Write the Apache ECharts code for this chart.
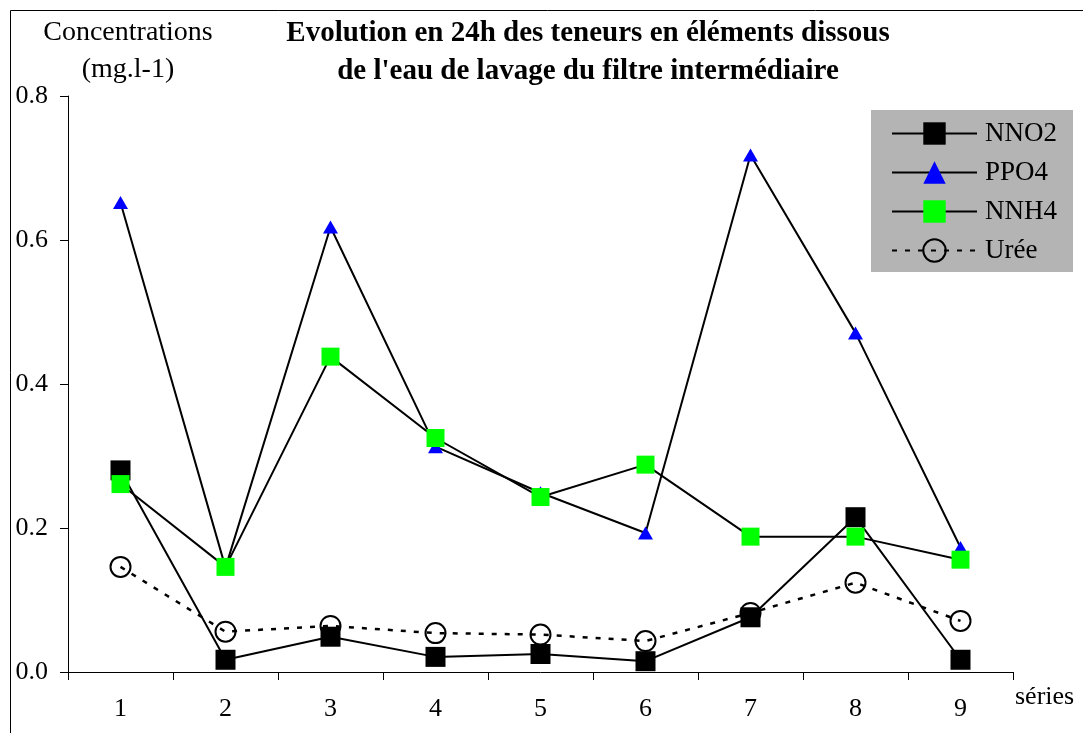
<!DOCTYPE html>
<html>
<head>
<meta charset="utf-8">
<script src="https://cdn.jsdelivr.net/npm/echarts@6/dist/echarts.min.js"></script>
<style>html,body{margin:0;padding:0;background:#fff;}#c{width:1083px;height:733px;}</style>
</head>
<body>
<div id="c"></div>
<script>
const categories = ['1','2','3','4','5','6','7','8','9'];
const nno2 = [0.280, 0.017, 0.049, 0.021, 0.025, 0.015, 0.076, 0.215, 0.017];
const ppo4 = [0.652, 0.145, 0.618, 0.313, 0.249, 0.193, 0.718, 0.471, 0.173];
const nnh4 = [0.261, 0.146, 0.438, 0.325, 0.243, 0.288, 0.188, 0.188, 0.156];
const uree = [0.146, 0.056, 0.064, 0.054, 0.052, 0.043, 0.082, 0.124, 0.071];
const yTicks = ['0.0','0.2','0.4','0.6','0.8'];

const FONT = '"Liberation Serif", "Times New Roman", serif';
const chart = echarts.init(document.getElementById('c'), null, {renderer:'canvas'});
chart.setOption({
  animation: false,
  backgroundColor: '#fff',
  textStyle: {fontFamily: FONT, color: '#000'},
  title: {
    text: 'Evolution en 24h des teneurs en éléments dissous\nde l\'eau de lavage du filtre intermédiaire',
    left: 583, top: 10, textAlign: 'center',
    textStyle: {fontFamily: FONT, fontWeight: 'bold', fontSize: 29, lineHeight: 38, color: '#000'}
  },
  graphic: [
    {type:'rect', left: 8, top: 8, shape:{width:1100, height:800}, style:{fill:'none', stroke:'#000', lineWidth:1}, silent:true, z:-10},
    {type:'text', x: 128, y: 33, style:{text:'Concentrations', font:'28px ' + FONT, fill:'#000', align:'center', verticalAlign:'middle'}},
    {type:'text', x: 128, y: 70, style:{text:'(mg.l-1)', font:'28px ' + FONT, fill:'#000', align:'center', verticalAlign:'middle'}}
  ],
  legend: {
    data: ['NNO2','PPO4','NNH4','Urée'],
    orient: 'vertical',
    left: 871, top: 110,
    backgroundColor: '#b4b4b4',
    padding: [10, 16, 8, 20],
    itemWidth: 85, itemHeight: 28, itemGap: 12,
    textStyle: {fontFamily: FONT, fontSize: 27, color: '#000', width: 80, padding: [0, 0, 0, 3]},
    borderWidth: 0
  },
  grid: {left: 68, right: 70, top: 96, bottom: 61, containLabel: false},
  xAxis: {
    type: 'category', data: categories, boundaryGap: true,
    name: 'séries', nameLocation: 'end', nameGap: 2,
    nameTextStyle: {fontFamily: FONT, fontSize: 26, color: '#000', verticalAlign: 'top', padding: [12, 0, 0, 0]},
    axisLine: {lineStyle: {color: '#000', width: 1}},
    axisTick: {show: true, length: 8, lineStyle: {color: '#000'}},
    axisLabel: {fontFamily: FONT, fontSize: 26, color: '#000', margin: 24},
    splitLine: {show: false}
  },
  yAxis: {
    type: 'value', min: 0, max: 0.8, interval: 0.2,
    axisLine: {show: true, lineStyle: {color: '#000', width: 1}},
    axisTick: {show: true, length: 8, lineStyle: {color: '#000'}},
    axisLabel: {fontFamily: FONT, fontSize: 26, color: '#000', margin: 20,
      formatter: function(v){ return yTicks[Math.round(v/0.2)]; }},
    splitLine: {show: false}
  },
  series: [
    {name:'Urée', type:'line', data: uree, symbol:'circle', symbolSize: 20,
      itemStyle:{color:'rgba(0,0,0,0)', borderColor:'#000', borderWidth:2},
      lineStyle:{color:'#000', width:2.5, type:[5,8]}, z: 2},
    {name:'NNO2', type:'line', data: nno2, symbol:'rect', symbolSize: 20,
      itemStyle:{color:'#000'}, lineStyle:{color:'#000', width:2}, z: 3},
    {name:'PPO4', type:'line', data: ppo4, symbol:'triangle', symbolSize: [15, 13],
      itemStyle:{color:'#0000ff'}, lineStyle:{color:'#000', width:2}, z: 4},
    {name:'NNH4', type:'line', data: nnh4, symbol:'rect', symbolSize: 18,
      itemStyle:{color:'#00ff00'}, lineStyle:{color:'#000', width:2}, z: 5}
  ]
});
</script>
</body>
</html>
